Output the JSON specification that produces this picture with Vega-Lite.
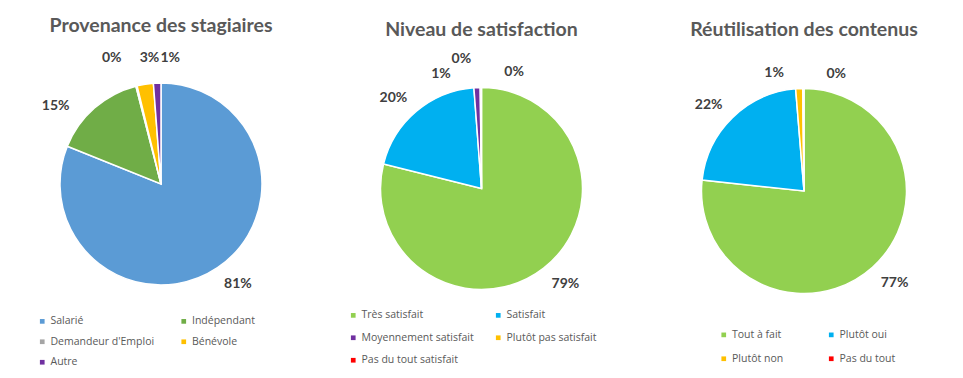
{
  "$schema": "https://vega.github.io/schema/vega-lite/v6.json",
  "padding": {"top": 15, "left": 0, "right": 0, "bottom": 0},
  "spacing": 0,
  "background": "white",
  "config": {
    "view": {"stroke": null},
    "title": {"font": "Lato", "fontSize": 19.5, "fontWeight": "bold", "color": "#595959", "anchor": "middle", "offset": 11},
    "legend": {"symbolType": "square", "symbolSize": 22, "symbolStrokeWidth": 0, "labelFont": "Open Sans", "labelFontSize": 10.5, "labelColor": "#595959", "labelOffset": 3, "padding": 0, "orient": "none", "columns": 2}
  },
  "data": {"values": [
    {"chart": "A", "i": 1, "cat": "Salarié", "v": 0.811},
    {"chart": "A", "i": 2, "cat": "Indépendant", "v": 0.149},
    {"chart": "A", "i": 3, "cat": "Demandeur d'Emploi", "v": 0.002},
    {"chart": "A", "i": 4, "cat": "Bénévole", "v": 0.026},
    {"chart": "A", "i": 5, "cat": "Autre", "v": 0.012},
    {"chart": "B", "i": 1, "cat": "Très satisfait", "v": 0.789},
    {"chart": "B", "i": 2, "cat": "Satisfait", "v": 0.199},
    {"chart": "B", "i": 3, "cat": "Moyennement satisfait", "v": 0.010},
    {"chart": "B", "i": 4, "cat": "Plutôt pas satisfait", "v": 0.001},
    {"chart": "B", "i": 5, "cat": "Pas du tout satisfait", "v": 0.001},
    {"chart": "C", "i": 1, "cat": "Tout à fait", "v": 0.767},
    {"chart": "C", "i": 2, "cat": "Plutôt oui", "v": 0.220},
    {"chart": "C", "i": 3, "cat": "Plutôt non", "v": 0.011},
    {"chart": "C", "i": 4, "cat": "Pas du tout", "v": 0.002}
  ]},
  "resolve": {"scale": {"color": "independent", "theta": "independent"}, "legend": {"color": "independent"}},
  "hconcat": [
    {
      "width": 322, "height": 266,
      "title": {"text": "Provenance des stagiaires"},
      "transform": [{"filter": "datum.chart === 'A'"}],
      "encoding": {
        "theta": {"field": "v", "type": "quantitative", "stack": true},
        "order": {"field": "i", "type": "quantitative"}
      },
      "layer": [
        {"mark": {"type": "arc", "outerRadius": 101, "stroke": "white", "strokeWidth": 1.5},
         "encoding": {"color": {"field": "cat", "type": "nominal",
           "scale": {"domain": ["Salarié", "Demandeur d'Emploi", "Autre", "Indépendant", "Bénévole"], "range": ["#5B9BD5", "#A5A5A5", "#7030A0", "#70AD47", "#FFC000"]},
           "legend": {"title": null, "legendX": 37, "legendY": 265, "rowPadding": 9.5, "columnPadding": 23.5}}}},
        {"mark": {"type": "text", "radius": 125, "dx": 7, "dy": -4, "font": "Lato", "fontWeight": "bold", "fontSize": 14, "color": "#404040"},
         "encoding": {"detail": {"field": "cat"}, "text": {"condition": {"test": "datum.i === 1", "field": "v", "type": "quantitative", "format": ".0%"}, "value": ""}}},
        {"mark": {"type": "text", "radius": 125, "dx": -23, "dy": 16, "font": "Lato", "fontWeight": "bold", "fontSize": 14, "color": "#404040"},
         "encoding": {"detail": {"field": "cat"}, "text": {"condition": {"test": "datum.i === 2", "field": "v", "type": "quantitative", "format": ".0%"}, "value": ""}}},
        {"mark": {"type": "text", "radius": 125, "dx": -19, "dy": -5, "font": "Lato", "fontWeight": "bold", "fontSize": 14, "color": "#404040"},
         "encoding": {"detail": {"field": "cat"}, "text": {"condition": {"test": "datum.i === 3", "field": "v", "type": "quantitative", "format": ".0%"}, "value": ""}}},
        {"mark": {"type": "text", "radius": 125, "dx": 8, "dy": -3, "font": "Lato", "fontWeight": "bold", "fontSize": 14, "color": "#404040"},
         "encoding": {"detail": {"field": "cat"}, "text": {"condition": {"test": "datum.i === 4", "field": "v", "type": "quantitative", "format": ".0%"}, "value": ""}}},
        {"mark": {"type": "text", "radius": 125, "dx": 14, "dy": -1, "font": "Lato", "fontWeight": "bold", "fontSize": 14, "color": "#404040"},
         "encoding": {"detail": {"field": "cat"}, "text": {"condition": {"test": "datum.i === 5", "field": "v", "type": "quantitative", "format": ".0%"}, "value": ""}}}
      ]
    },
    {
      "width": 319, "height": 275,
      "title": {"text": "Niveau de satisfaction"},
      "transform": [{"filter": "datum.chart === 'B'"}],
      "encoding": {
        "theta": {"field": "v", "type": "quantitative", "stack": true},
        "order": {"field": "i", "type": "quantitative"}
      },
      "layer": [
        {"mark": {"type": "arc", "outerRadius": 101, "stroke": "white", "strokeWidth": 1.5},
         "encoding": {"color": {"field": "cat", "type": "nominal",
           "scale": {"domain": ["Très satisfait", "Moyennement satisfait", "Pas du tout satisfait", "Satisfait", "Plutôt pas satisfait"], "range": ["#92D050", "#7030A0", "#FF0000", "#00B0F0", "#FFC000"]},
           "legend": {"title": null, "legendX": 26, "legendY": 259, "rowPadding": 11.5, "columnPadding": 19}}}},
        {"mark": {"type": "text", "radius": 125, "dx": 7, "dy": -3, "font": "Lato", "fontWeight": "bold", "fontSize": 14, "color": "#404040"},
         "encoding": {"detail": {"field": "cat"}, "text": {"condition": {"test": "datum.i === 1", "field": "v", "type": "quantitative", "format": ".0%"}, "value": ""}}},
        {"mark": {"type": "text", "radius": 125, "dx": -7.5, "dy": 5, "font": "Lato", "fontWeight": "bold", "fontSize": 14, "color": "#404040"},
         "encoding": {"detail": {"field": "cat"}, "text": {"condition": {"test": "datum.i === 2", "field": "v", "type": "quantitative", "format": ".0%"}, "value": ""}}},
        {"mark": {"type": "text", "radius": 125, "dx": -35, "dy": 10, "font": "Lato", "fontWeight": "bold", "fontSize": 14, "color": "#404040"},
         "encoding": {"detail": {"field": "cat"}, "text": {"condition": {"test": "datum.i === 3", "field": "v", "type": "quantitative", "format": ".0%"}, "value": ""}}},
        {"mark": {"type": "text", "radius": 125, "dx": -19, "dy": -5, "font": "Lato", "fontWeight": "bold", "fontSize": 14, "color": "#404040"},
         "encoding": {"detail": {"field": "cat"}, "text": {"condition": {"test": "datum.i === 4", "field": "v", "type": "quantitative", "format": ".0%"}, "value": ""}}},
        {"mark": {"type": "text", "radius": 125, "dx": 33, "dy": 8, "font": "Lato", "fontWeight": "bold", "fontSize": 14, "color": "#404040"},
         "encoding": {"detail": {"field": "cat"}, "text": {"condition": {"test": "datum.i === 5", "field": "v", "type": "quantitative", "format": ".0%"}, "value": ""}}}
      ]
    },
    {
      "width": 326, "height": 280,
      "title": {"text": "Réutilisation des contenus"},
      "transform": [{"filter": "datum.chart === 'C'"}],
      "encoding": {
        "theta": {"field": "v", "type": "quantitative", "stack": true},
        "order": {"field": "i", "type": "quantitative"}
      },
      "layer": [
        {"mark": {"type": "arc", "outerRadius": 102.5, "stroke": "white", "strokeWidth": 1.5},
         "encoding": {"color": {"field": "cat", "type": "nominal",
           "scale": {"domain": ["Tout à fait", "Plutôt non", "Plutôt oui", "Pas du tout"], "range": ["#92D050", "#FFC000", "#00B0F0", "#FF0000"]},
           "legend": {"title": null, "legendX": 77.5, "legendY": 278.5, "rowPadding": 13, "columnPadding": 42.5}}}},
        {"mark": {"type": "text", "radius": 125, "dx": 7, "dy": -1, "font": "Lato", "fontWeight": "bold", "fontSize": 14, "color": "#404040"},
         "encoding": {"detail": {"field": "cat"}, "text": {"condition": {"test": "datum.i === 1", "field": "v", "type": "quantitative", "format": ".0%"}, "value": ""}}},
        {"mark": {"type": "text", "radius": 125, "dx": -8, "dy": 3.5, "font": "Lato", "fontWeight": "bold", "fontSize": 14, "color": "#404040"},
         "encoding": {"detail": {"field": "cat"}, "text": {"condition": {"test": "datum.i === 2", "field": "v", "type": "quantitative", "format": ".0%"}, "value": ""}}},
        {"mark": {"type": "text", "radius": 125, "dx": -24, "dy": 7, "font": "Lato", "fontWeight": "bold", "fontSize": 14, "color": "#404040"},
         "encoding": {"detail": {"field": "cat"}, "text": {"condition": {"test": "datum.i === 3", "field": "v", "type": "quantitative", "format": ".0%"}, "value": ""}}},
        {"mark": {"type": "text", "radius": 125, "dx": 33, "dy": 8, "font": "Lato", "fontWeight": "bold", "fontSize": 14, "color": "#404040"},
         "encoding": {"detail": {"field": "cat"}, "text": {"condition": {"test": "datum.i === 4", "field": "v", "type": "quantitative", "format": ".0%"}, "value": ""}}}
      ]
    }
  ]
}
